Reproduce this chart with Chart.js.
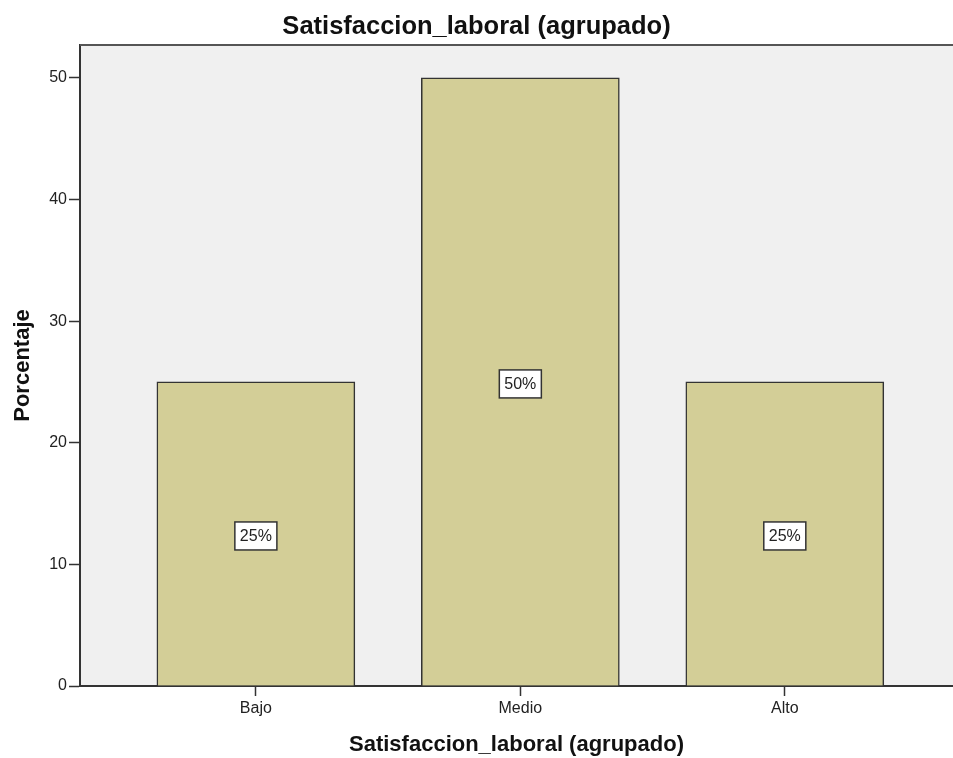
<!DOCTYPE html>
<html>
<head>
<meta charset="utf-8">
<script src="https://cdn.jsdelivr.net/npm/chart.js@4/dist/chart.umd.min.js"></script>
<style>
  body { margin: 0; background: #fff; }
</style>
</head>
<body>
<canvas id="satisfaccionChart" width="953" height="758"></canvas>
<script>
var categorias = ["Bajo", "Medio", "Alto"];
var porcentajes = [25, 50, 25];
var yTicks = [0, 10, 20, 30, 40, 50];
var tituloGrafico = "Satisfaccion_laboral (agrupado)";
var tituloY = "Porcentaje";

// fondo gris del area del grafico + borde superior
var plotArea = {
    id: "plotArea",
    beforeDraw: function (chart) {
        var a = chart.chartArea, ctx = chart.ctx;
        ctx.save();
        ctx.fillStyle = "#f0f0f0";
        ctx.fillRect(a.left, a.top, a.right - a.left, a.bottom - a.top);
        ctx.restore();
    },
    afterDatasetsDraw: function (chart) {
        var a = chart.chartArea, ctx = chart.ctx;
        ctx.save();
        ctx.strokeStyle = "#555";
        ctx.lineWidth = 2;
        ctx.beginPath();
        ctx.moveTo(a.left, a.top);
        ctx.lineTo(a.right, a.top);
        ctx.stroke();
        ctx.restore();
    }
};

// etiquetas "25%" en cajas blancas a media altura
var etiquetas = {
    id: "etiquetas",
    afterDatasetsDraw: function (chart) {
        var ctx = chart.ctx;
        var xs = chart.scales.x, ys = chart.scales.y;
        ctx.save();
        ctx.font = "16px 'Liberation Sans', Arial, sans-serif";
        ctx.textAlign = "center";
        ctx.textBaseline = "middle";
        porcentajes.forEach(function (v, i) {
            var txt = v + "%";
            var x = xs.getPixelForValue(i);
            var y = ys.getPixelForValue(v / 2) + 2;
            var w = ctx.measureText(txt).width + 10;
            var h = 28;
            ctx.fillStyle = "#fff";
            ctx.fillRect(x - w / 2, y - h / 2, w, h);
            ctx.strokeStyle = "#333";
            ctx.lineWidth = 1.5;
            ctx.strokeRect(x - w / 2, y - h / 2, w, h);
            ctx.fillStyle = "#222";
            ctx.fillText(txt, x, y + 1);
        });
        ctx.restore();
    }
};

new Chart("satisfaccionChart", {
    type: "bar",
    data: {
        datasets: [{
            data: porcentajes.map(function (v, i) { return { x: i, y: v }; }),
            backgroundColor: "#d3ce97",
            borderColor: "#333",
            borderWidth: 1.5,
            borderSkipped: "bottom",
            barThickness: 198
        }]
    },
    plugins: [plotArea, etiquetas],
    options: {
        responsive: false,
        animation: false,
        layout: { padding: 0 },
        plugins: {
            legend: { display: false },
            tooltip: { enabled: false },
            title: {
                display: true,
                text: tituloGrafico,
                color: "#111",
                font: { family: "'Liberation Sans', Arial, sans-serif", size: 25.5, weight: "bold" },
                padding: { top: 12, bottom: 2.4 }
            }
        },
        scales: {
            x: {
                type: "linear",
                min: -0.665,
                max: 2.636,
                offset: false,
                afterBuildTicks: function (scale) {
                    scale.ticks = categorias.map(function (c, i) { return { value: i }; });
                },
                afterFit: function (scale) { scale.height = 72; },
                ticks: {
                    padding: 3,
                    color: "#222",
                    font: { family: "'Liberation Sans', Arial, sans-serif", size: 16 },
                    callback: function (v) { return categorias[v]; }
                },
                grid: {
                    offset: false,
                    drawOnChartArea: false,
                    drawTicks: true,
                    tickLength: 10,
                    tickWidth: 1.5,
                    tickColor: "#333"
                },
                border: { display: true, color: "#333", width: 2 },
                title: {
                    display: true,
                    text: tituloGrafico,
                    color: "#111",
                    font: { family: "'Liberation Sans', Arial, sans-serif", size: 22, weight: "bold" },
                    padding: { top: 0, bottom: 0 }
                }
            },
            y: {
                min: 0,
                max: 52.7,
                afterBuildTicks: function (scale) {
                    scale.ticks = yTicks.map(function (v) { return { value: v }; });
                },
                afterFit: function (scale) { scale.width = 80; },
                ticks: {
                    padding: 2,
                    color: "#222",
                    font: { family: "'Liberation Sans', Arial, sans-serif", size: 16 }
                },
                grid: {
                    drawOnChartArea: false,
                    drawTicks: true,
                    tickLength: 11,
                    tickWidth: 1.5,
                    tickColor: "#333"
                },
                border: { display: true, color: "#333", width: 2 },
                title: {
                    display: true,
                    text: tituloY,
                    color: "#111",
                    font: { family: "'Liberation Sans', Arial, sans-serif", size: 22, weight: "bold" },
                    padding: { top: 10, bottom: 0 }
                }
            }
        }
    }
});
</script>
</body>
</html>
